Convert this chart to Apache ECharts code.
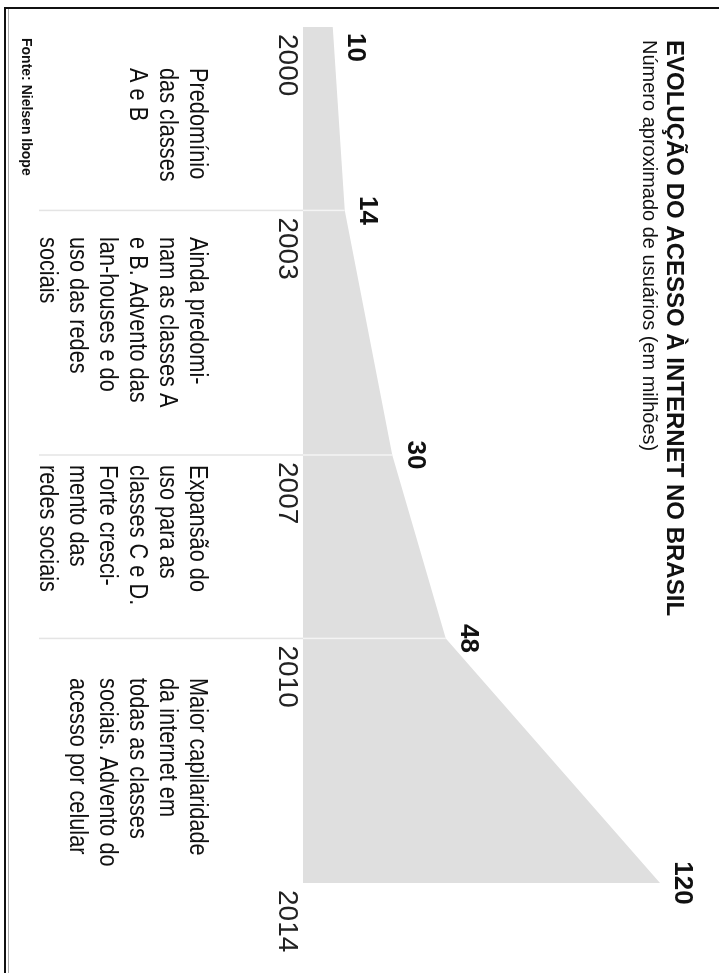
<!DOCTYPE html>
<html>
<head>
<meta charset="utf-8">
<script src="https://cdn.jsdelivr.net/npm/echarts@6/dist/echarts.min.js"></script>
<style>
  html, body { margin: 0; padding: 0; background: #fff; }
  body { width: 719px; height: 973px; overflow: hidden; position: relative; }
  #frame { position: absolute; left: 4px; top: 7px; width: 760px; height: 1000px;
           border-top: 2px solid #111; border-left: 2px solid #111; box-sizing: border-box; }
  #inner { position: absolute; left: 8px; top: 9px; width: 1px; height: 980px; background: #aaa; }
  #chart { position: absolute; left: 0; top: 0; width: 973px; height: 719px;
           transform-origin: 0 0; transform: translate(719px, 0) rotate(90deg); }
</style>
</head>
<body>
<div id="frame"></div>
<div id="inner"></div>
<div id="chart"></div>
<script>
// ---- data ----
const years = [2000, 2003, 2007, 2010, 2014];
const users = [10, 14, 30, 48, 120];
const yearTicks = ['2000', '2003', '2007', '2010', '2014'];
const dividerYears = [2003, 2007, 2010];
const titleText = 'EVOLUÇÃO DO ACESSO À INTERNET NO BRASIL';
const subtitleText = 'Número aproximado de usuários (em milhões)';
const sourceText = 'Fonte: Nielsen Ibope';
const noteLines = [
  ['Predomínio', 'das classes', 'A e B'],
  ['Ainda predomi-', 'nam as classes A', 'e B. Advento das', 'lan-houses e do', 'uso das redes', 'sociais'],
  ['Expansão do', 'uso para as', 'classes C e D.', 'Forte cresci-', 'mento das', 'redes sociais'],
  ['Maior capilaridade', 'da internet em', 'todas as classes', 'sociais. Advento do', 'acesso por celular']
];
const notePos = [68, 237, 465, 678];

const FONT = "'Liberation Sans', Arial, sans-serif";
const NARROW = "'Liberation Sans Narrow', 'Arial Narrow', sans-serif";
const chart = echarts.init(document.getElementById('chart'), null, { width: 973, height: 719 });

const seriesData = years.map((y, i) => {
  const d = { value: [y, users[i]] };
  if (i === 0) d.label = { align: 'left', offset: [6, 0] };
  return d;
});
const dividerData = dividerYears.map(y => [y, users[years.indexOf(y)]]);

const graphics = [
  { type: 'text', left: 40, top: 33, style: { text: titleText, fill: '#111', font: "bold 24px " + FONT } },
  { type: 'text', left: 40, top: 60, style: { text: subtitleText, fill: '#111', font: "20px " + FONT } },
  { type: 'text', x: 38, y: 686, style: { text: sourceText, fill: '#111', font: "bold 14px " + NARROW,
      align: 'left', verticalAlign: 'top' } }
];
noteLines.forEach((lines, i) => {
  graphics.push({ type: 'text', x: notePos[i], y: 507, scaleX: 0.87,
    style: { text: lines.join('\n'), fill: '#111', font: "25px " + NARROW, lineHeight: 30,
             align: 'left', verticalAlign: 'top' } });
});

chart.setOption({
  animation: false,
  backgroundColor: 'transparent',
  grid: { left: 27, right: 90, top: 59, bottom: 303, containLabel: false },
  xAxis: {
    type: 'value', min: 2000, max: 2014, interval: 1,
    axisLine: { show: false }, axisTick: { show: false }, splitLine: { show: false },
    axisLabel: {
      show: true, align: 'left', margin: 2, padding: [0, 0, 0, 7],
      color: '#222', fontFamily: NARROW, fontSize: 28,
      showMinLabel: true, showMaxLabel: true,
      formatter: v => (yearTicks.indexOf(String(v)) >= 0 ? String(v) : '')
    }
  },
  yAxis: { type: 'value', min: 0, max: 120, show: false, splitLine: { show: false } },
  series: [
    {
      type: 'line', data: seriesData, symbol: 'circle', symbolSize: 1, showSymbol: true, z: 2,
      itemStyle: { color: 'rgba(0,0,0,0)' },
      lineStyle: { width: 0, color: '#dfdfdf' },
      areaStyle: { color: '#dfdfdf', opacity: 1 },
      label: { show: true, position: 'top', distance: 9, color: '#111',
               fontFamily: NARROW, fontWeight: 'bold', fontSize: 26 }
    },
    {
      type: 'custom', z: 3, data: dividerData,
      renderItem: (params, api) => {
        const top = api.coord([api.value(0), api.value(1)]);
        const base = api.coord([api.value(0), 0]);
        return { type: 'group', children: [
          { type: 'line', shape: { x1: top[0], y1: top[1], x2: base[0], y2: base[1] },
            style: { stroke: '#f4f4f4', lineWidth: 1.5 } },
          { type: 'line', shape: { x1: base[0], y1: base[1], x2: base[0], y2: 680 },
            style: { stroke: '#e4e4e4', lineWidth: 1.5 } }
        ]};
      }
    }
  ],
  graphic: graphics
});
</script>
</body>
</html>
